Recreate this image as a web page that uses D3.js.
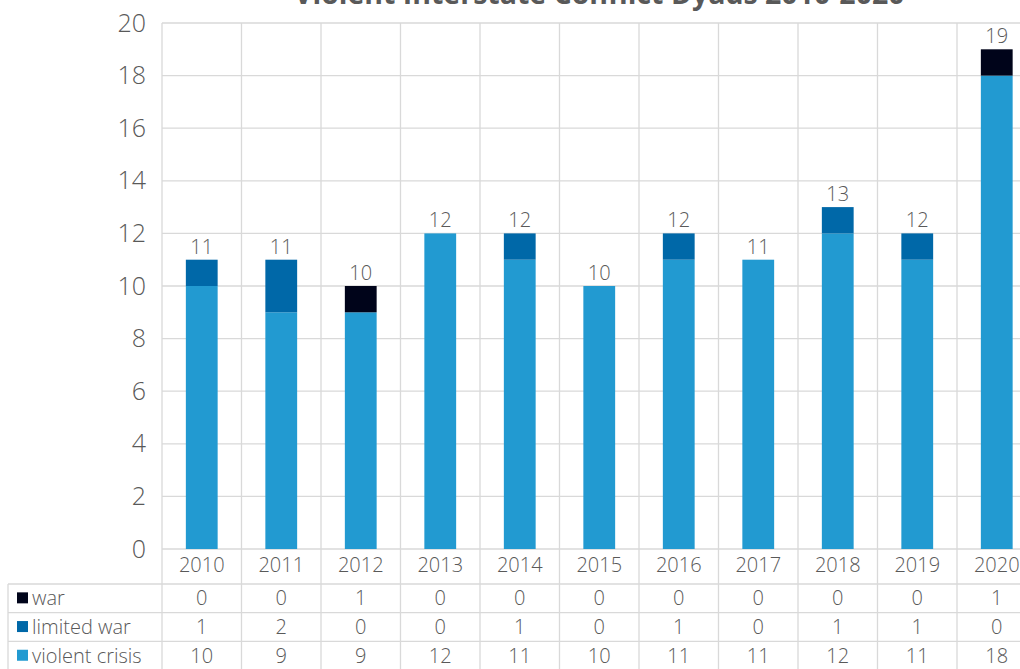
<!DOCTYPE html>
<html>
<head>
<meta charset="utf-8">
<script src="https://cdn.jsdelivr.net/npm/d3@7"></script>
<style>
  body { margin: 0; background: #fff; }
  svg { display: block; font-family: 'Open Sans', sans-serif; }
</style>
</head>
<body>
<svg width="1020" height="669"></svg>
<script>
// data
var years = ['2010', '2011', '2012', '2013', '2014', '2015', '2016', '2017', '2018', '2019', '2020']
var war = [0, 0, 1, 0, 0, 0, 0, 0, 0, 0, 1]
var limitedWar = [1, 2, 0, 0, 1, 0, 1, 0, 1, 1, 0]
var violentCrisis = [10, 9, 9, 12, 11, 10, 11, 11, 12, 11, 18]
var yTicks = [0, 2, 4, 6, 8, 10, 12, 14, 16, 18, 20]
var seriesNames = ['violent crisis', 'limited war', 'war']
var seriesColors = ['#229ad1', '#0068a8', '#00041a']

var svg = d3.select('svg')
var plotLeft = 162
var colW = 79.5
var plotRight = plotLeft + colW * years.length
var plotTop = 23
var plotBottom = 549
var grid = '#d9d9d9'
var textCol = '#595959'

var rows = years.map(function(y, i) {
  return { year: y, 'violent crisis': violentCrisis[i], 'limited war': limitedWar[i], 'war': war[i] }
})

var x = d3.scaleBand().domain(years).range([plotLeft, plotRight]).paddingInner(0.6).paddingOuter(0.3)
var xCol = d3.scaleBand().domain(years).range([plotLeft, plotRight])
var y = d3.scaleLinear().domain([0, 20]).range([plotBottom, plotTop])

// title (mostly cut off above the top edge)
svg.append('text')
  .attr('x', (plotLeft + plotRight) / 2).attr('y', 4)
  .attr('text-anchor', 'middle')
  .attr('font-size', 28.5).attr('font-weight', 'bold')
  .attr('fill', textCol)
  .text('Violent Interstate Conflict Dyads 2010-2020')

// horizontal grid
svg.append('g').selectAll('line').data(yTicks).enter().append('line')
  .attr('x1', plotLeft).attr('x2', plotRight)
  .attr('y1', function(d) { return y(d) }).attr('y2', function(d) { return y(d) })
  .attr('stroke', grid).attr('stroke-width', 1.3)

// vertical grid lines (through chart and table)
var tableBottom = 669
var vlines = years.map(function(d) { return xCol(d) }).concat([plotRight])
svg.append('g').selectAll('line').data(vlines).enter().append('line')
  .attr('x1', function(d) { return d }).attr('x2', function(d) { return d })
  .attr('y1', plotTop).attr('y2', tableBottom)
  .attr('stroke', grid).attr('stroke-width', 1.3)

// y axis labels
var yAxis = d3.axisLeft(y).tickValues(yTicks).tickSize(0).tickPadding(0)
var ya = svg.append('g').attr('transform', 'translate(146,0)').call(yAxis)
ya.select('.domain').remove()
ya.selectAll('text').attr('font-size', 25).attr('fill', textCol)
  .attr('font-family', "'Open Sans', sans-serif").attr('font-weight', 300)

// stacked bars
var stack = d3.stack().keys(seriesNames)(rows)
svg.append('g').selectAll('g').data(stack).enter().append('g')
  .attr('fill', function(d, i) { return seriesColors[i] })
  .selectAll('rect').data(function(d) { return d }).enter().append('rect')
  .attr('x', function(d) { return x(d.data.year) })
  .attr('width', x.bandwidth())
  .attr('y', function(d) { return y(d[1]) })
  .attr('height', function(d) { return y(d[0]) - y(d[1]) })

// totals
svg.append('g').selectAll('text').data(rows).enter().append('text')
  .attr('x', function(d) { return x(d.year) + x.bandwidth() / 2 })
  .attr('y', function(d) { return y(d.war + d['limited war'] + d['violent crisis']) - 6 })
  .attr('text-anchor', 'middle').attr('font-size', 20).attr('font-weight', 300)
  .attr('fill', textCol)
  .text(function(d) { return d.war + d['limited war'] + d['violent crisis'] })

// data table
var rowH = 28.7
var tableTop = 584
var tableLeft = 8
var tableRows = [
  { name: 'war', color: seriesColors[2], values: war },
  { name: 'limited war', color: seriesColors[1], values: limitedWar },
  { name: 'violent crisis', color: seriesColors[0], values: violentCrisis }
]

// year row
svg.append('g').selectAll('text').data(years).enter().append('text')
  .attr('x', function(d) { return xCol(d) + colW / 2 })
  .attr('y', 572).attr('text-anchor', 'middle')
  .attr('font-size', 20).attr('font-weight', 300).attr('fill', textCol)
  .text(function(d) { return d })

// table horizontal lines
var hlines = [0, 1, 2, 3].map(function(i) { return tableTop + i * rowH })
svg.append('g').selectAll('line').data(hlines).enter().append('line')
  .attr('x1', tableLeft).attr('x2', plotRight)
  .attr('y1', function(d) { return d }).attr('y2', function(d) { return d })
  .attr('stroke', grid).attr('stroke-width', 1.3)
svg.append('line')
  .attr('x1', tableLeft).attr('x2', tableLeft)
  .attr('y1', tableTop).attr('y2', tableBottom)
  .attr('stroke', grid).attr('stroke-width', 1.3)

var tr = svg.append('g').selectAll('g').data(tableRows).enter().append('g')
  .attr('transform', function(d, i) { return 'translate(0,' + (tableTop + i * rowH) + ')' })
tr.append('rect')
  .attr('x', 17).attr('y', rowH / 2 - 6).attr('width', 11).attr('height', 11)
  .attr('fill', function(d) { return d.color })
tr.append('text')
  .attr('x', 32).attr('y', rowH / 2 + 7)
  .attr('font-size', 20).attr('font-weight', 300).attr('fill', textCol)
  .text(function(d) { return d.name })
tr.selectAll('text.v').data(function(d) { return d.values }).enter().append('text')
  .attr('class', 'v')
  .attr('x', function(d, i) { return xCol(years[i]) + colW / 2 })
  .attr('y', rowH / 2 + 7).attr('text-anchor', 'middle')
  .attr('font-size', 20).attr('font-weight', 300).attr('fill', textCol)
  .text(function(d) { return d })
</script>
</body>
</html>
